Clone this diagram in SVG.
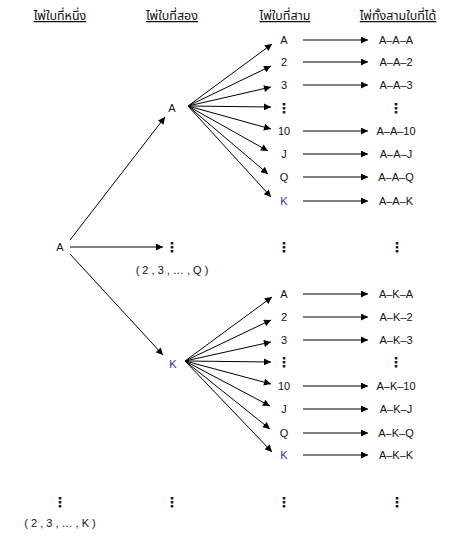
<svg xmlns="http://www.w3.org/2000/svg" width="455" height="540" viewBox="0 0 455 540">
<style>
text{font-family:"Liberation Sans","Noto Sans Thai","Noto Sans",Arial,sans-serif;font-size:11px;fill:#111;text-anchor:middle}
.h{text-decoration:underline;font-size:12.5px}
.k{fill:#33338f}
.d{font-size:14px;font-weight:bold;font-family:"DejaVu Sans",sans-serif}
.c line{stroke:#000;stroke-width:1;marker-end:url(#ah)}
</style>
<defs>
<marker id="ah" viewBox="0 0 10 10" refX="10" refY="5" markerWidth="9" markerHeight="7" markerUnits="userSpaceOnUse" orient="auto"><path d="M0,0L10,5L0,10z" fill="#000"/></marker>
</defs>
<g id="headers">
<text class="h" x="60" y="20">ไพ่ใบที่หนึ่ง</text>
<text class="h" x="172" y="20">ไพ่ใบที่สอง</text>
<text class="h" x="285" y="20">ไพ่ใบที่สาม</text>
<text class="h" x="398" y="20">ไพ่ทั้งสามใบที่ได้</text>
</g>
<g class="c" id="connectors">
<line x1="70" y1="240" x2="165" y2="117"/>
<line x1="70" y1="247" x2="163" y2="247"/>
<line x1="70" y1="254" x2="163" y2="355"/>
<line x1="188" y1="106" x2="272" y2="44"/>
<line x1="188" y1="106" x2="271" y2="66"/>
<line x1="188" y1="106" x2="271" y2="87"/>
<line x1="188" y1="106" x2="271" y2="107"/>
<line x1="188" y1="106" x2="271" y2="129"/>
<line x1="188" y1="106" x2="268" y2="151"/>
<line x1="188" y1="106" x2="268" y2="174"/>
<line x1="188" y1="106" x2="271" y2="197"/>
<line x1="185" y1="361" x2="272" y2="297"/>
<line x1="185" y1="361" x2="271" y2="320"/>
<line x1="185" y1="361" x2="271" y2="342"/>
<line x1="185" y1="361" x2="271" y2="362"/>
<line x1="185" y1="361" x2="271" y2="384"/>
<line x1="185" y1="361" x2="270" y2="406"/>
<line x1="185" y1="361" x2="270" y2="429"/>
<line x1="185" y1="361" x2="272" y2="452"/>
<line x1="303" y1="40" x2="368" y2="40"/>
<line x1="303" y1="62" x2="368" y2="62"/>
<line x1="303" y1="85" x2="368" y2="85"/>
<line x1="303" y1="131" x2="368" y2="131"/>
<line x1="303" y1="154" x2="368" y2="154"/>
<line x1="303" y1="177" x2="368" y2="177"/>
<line x1="303" y1="201" x2="368" y2="201"/>
<line x1="303" y1="294" x2="368" y2="294"/>
<line x1="303" y1="317" x2="368" y2="317"/>
<line x1="303" y1="340" x2="368" y2="340"/>
<line x1="303" y1="386" x2="368" y2="386"/>
<line x1="303" y1="409" x2="368" y2="409"/>
<line x1="303" y1="433" x2="368" y2="433"/>
<line x1="303" y1="455" x2="368" y2="455"/>
</g>
<g id="first">
<text x="60" y="251">A</text>
<text class="d" x="60" y="507">⋮</text>
<text x="60" y="527">( 2 , 3 , … , K )</text>
</g>
<g id="second">
<text x="172" y="112">A</text>
<text class="d" x="172" y="252">⋮</text>
<text x="172" y="274">( 2 , 3 , … , Q )</text>
<text class="k" x="173" y="368">K</text>
<text class="d" x="172" y="507">⋮</text>
</g>
<g id="third-top">
<text x="284" y="44">A</text>
<text x="284" y="66">2</text>
<text x="284" y="89">3</text>
<text class="d" x="284" y="113">⋮</text>
<text x="284" y="135">10</text>
<text x="284" y="158">J</text>
<text x="284" y="181">Q</text>
<text class="k" x="284" y="205">K</text>
</g>
<g id="third-mid">
<text class="d" x="284" y="252">⋮</text>
</g>
<g id="third-bottom">
<text x="284" y="298">A</text>
<text x="284" y="321">2</text>
<text x="284" y="344">3</text>
<text class="d" x="284" y="367">⋮</text>
<text x="284" y="390">10</text>
<text x="284" y="413">J</text>
<text x="284" y="437">Q</text>
<text class="k" x="284" y="459">K</text>
<text class="d" x="284" y="507">⋮</text>
</g>
<g id="results">
<text x="396" y="44">A–A–A</text>
<text x="396" y="66">A–A–2</text>
<text x="396" y="89">A–A–3</text>
<text class="d" x="396" y="113">⋮</text>
<text x="396" y="135">A–A–10</text>
<text x="396" y="158">A–A–J</text>
<text x="396" y="181">A–A–Q</text>
<text x="396" y="205">A–A–K</text>
<text class="d" x="397" y="252">⋮</text>
<text x="396" y="298">A–K–A</text>
<text x="396" y="321">A–K–2</text>
<text x="396" y="344">A–K–3</text>
<text class="d" x="396" y="367">⋮</text>
<text x="396" y="390">A–K–10</text>
<text x="396" y="413">A–K–J</text>
<text x="396" y="437">A–K–Q</text>
<text x="396" y="459">A–K–K</text>
<text class="d" x="397" y="507">⋮</text>
</g>
</svg>
